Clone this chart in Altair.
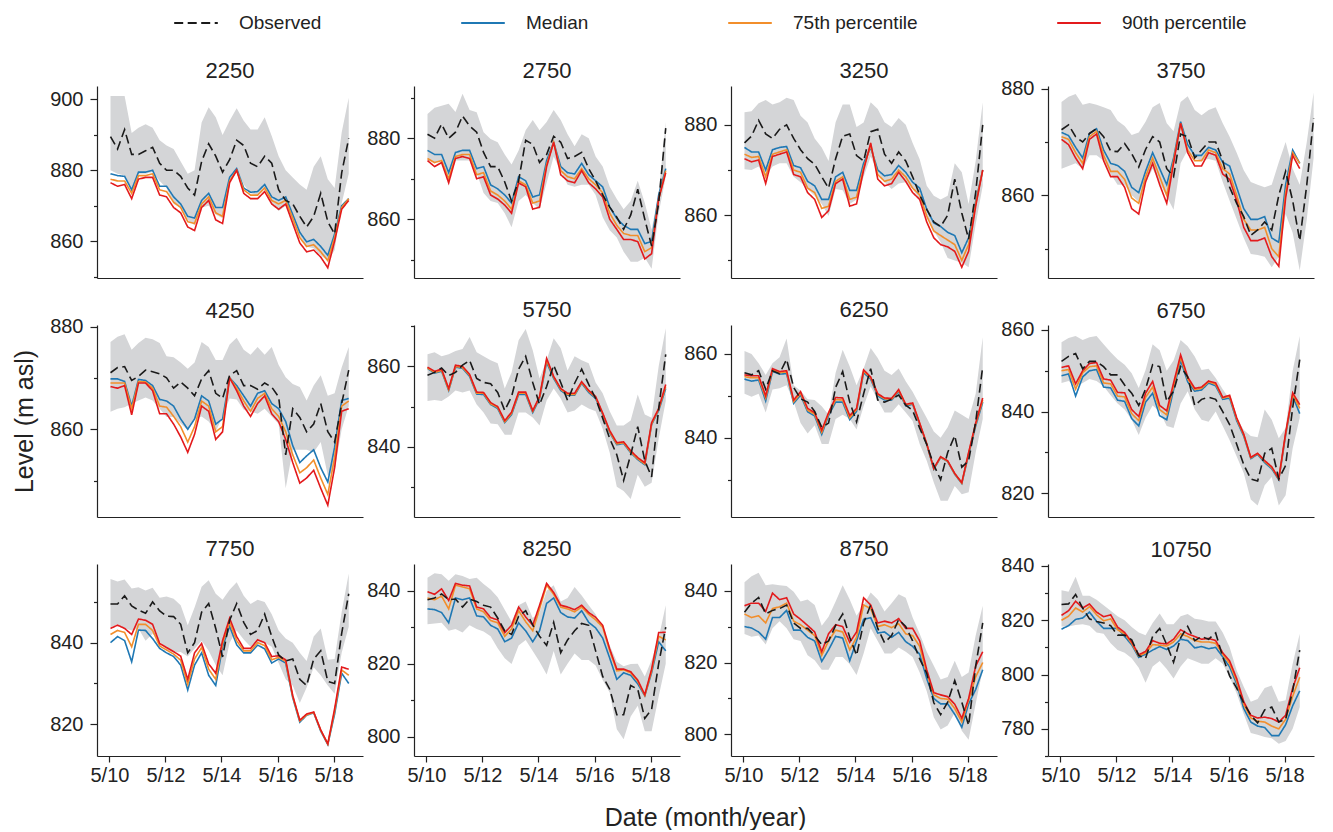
import math
import altair as alt
import pandas as pd

# ---------------- data ----------------
# quarterly dates: 2010-05-15, 2010-08-15, ... (37 dates, up to 2019-05)
DATES = [f"{2010 + (4 + 3 * k) // 12}-{(4 + 3 * k) % 12 + 1:02d}-15" for k in range(37)]

SERIES = ["Observed", "Median", "75th percentile", "90th percentile"]
COLORS = ["#1a1a1a", "#1f78b4", "#f28e2b", "#e31a1c"]
DASHES = [[9, 4.5], [1, 0], [1, 0], [1, 0]]
BAND_COLOR = "#d4d5d7"

obs_2250 = [889.5, 886, 891.5, 884.5, 884.5, 885.5, 886.5, 882, 880, 880, 878.3, 875, 873, 882.5, 887.5, 884, 879.5, 883, 888.5, 887, 882, 881, 884, 882, 874.5, 871.5, 870.5, 867, 864, 867, 873.5, 865.5, 862, 879.3, 889]
med_2250 = [879, 878.5, 878.3, 874.5, 879.5, 879.5, 880, 875.5, 875.5, 872.5, 870.5, 867, 866.5, 871.5, 873.5, 869.5, 869.5, 878, 880.5, 875, 873.8, 874, 876, 872.5, 871.5, 872.5, 867.5, 862.5, 859.8, 860.5, 858.5, 856, 862, 870, 872]
p75_2250 = [877.5, 877, 877, 873.5, 878.5, 878.5, 879, 874.5, 874, 871, 869.5, 865.5, 865, 870.5, 872.5, 868, 867, 877, 880, 874.5, 873, 873, 875, 871.5, 870.5, 871.5, 866.5, 861, 858.5, 859, 857, 854.5, 861, 869.5, 872]
p90_2250 = [876.5, 875.5, 876, 872, 877.5, 878, 878, 873, 872.5, 869.5, 868, 864, 863, 869.5, 871.5, 866, 865, 876.5, 880, 873.5, 872, 872, 874, 870.5, 869, 870.5, 865, 859.5, 857, 857.5, 855.5, 852.5, 860, 869, 871.5]
lo_2250 = [880, 879, 878.5, 874, 879, 879, 879.5, 877, 875, 870.5, 869.5, 866, 864.5, 869.5, 870, 867.5, 866.5, 877, 880.5, 876, 873.5, 873, 875, 870.7, 868.5, 870, 865, 861.5, 858.4, 858, 856, 854.5, 857.4, 870.7, 879]
hi_2250 = [901, 901, 901, 890.5, 892, 893, 892, 888.5, 887, 886, 882.5, 879, 880, 893.5, 897.8, 895, 890, 894, 897.5, 894, 891.5, 891.5, 895, 889.7, 884, 880, 878, 876, 874.5, 881, 884, 877.5, 875, 890.7, 900.5]

obs_2750 = [881, 880, 883.5, 880, 881.5, 885.5, 883, 881.5, 876.5, 873, 873, 869.2, 864.5, 869.5, 879.5, 878.5, 874, 876, 880.5, 879, 875, 875.5, 876.5, 872.5, 869.5, 866, 863, 860.5, 857.5, 861, 867.4, 860, 853.4, 864, 882.5]
med_2750 = [877, 876, 876, 871.5, 876.5, 877, 877, 872.5, 873, 868.5, 867.5, 866, 864, 870.5, 869.5, 865.5, 866, 874.5, 879, 873, 871.5, 871.2, 873.8, 871, 869.5, 868, 863, 860.2, 858.5, 857.5, 857.5, 854, 854.5, 866, 872.5]
p75_2750 = [875, 874, 874.5, 870, 875.5, 876, 876, 871, 871.5, 867, 866, 864.5, 862.5, 869.5, 868.5, 864, 864.5, 873.5, 879, 872, 870.5, 870, 872.5, 870, 868.5, 866.5, 861.5, 858.5, 856.5, 856, 856, 852, 853, 865, 872]
p90_2750 = [874.5, 873, 874, 869, 875, 875.5, 875, 870, 870.5, 866, 865, 863.5, 861.5, 869, 868, 862.5, 863, 873, 879, 871, 869.5, 869, 872, 869, 867.5, 865.5, 860, 857.5, 855, 855, 854.5, 850.2, 851.5, 865, 871.5]
lo_2750 = [874.5, 874, 874.5, 870, 874.5, 874.5, 874.5, 871.5, 866.5, 864.5, 864, 861.5, 858, 864.5, 866, 864, 862.5, 869, 875.5, 872, 868.5, 868, 868.5, 868.5, 866, 860.5, 857.3, 855.5, 852, 849.5, 849.5, 850.5, 847.8, 861.5, 870.5]
hi_2750 = [886, 887.5, 888, 888.5, 886.5, 891, 887, 886.4, 881.5, 879.8, 879, 876, 873.5, 877, 882, 884.5, 882, 884, 887, 884.5, 881, 878, 881, 880, 875.5, 873, 868, 865, 862.5, 864.5, 869.5, 864, 857.5, 866.5, 884]

obs_3250 = [876, 877.5, 881, 878, 877, 879, 880, 877, 874.5, 872.5, 871.3, 868.5, 866, 872.5, 877.5, 878, 873.2, 872, 878.5, 879, 873.5, 871.5, 874, 872, 868.5, 864.5, 861.3, 858.5, 857.5, 860, 868, 860.5, 854.7, 865, 880]
med_3250 = [875, 874, 874, 870, 874.5, 875, 875.2, 871, 870.5, 867.5, 866.5, 863.5, 863.5, 868.5, 869.5, 865.5, 865.5, 871.5, 875, 870, 868.7, 869, 871, 869.5, 867.3, 866, 861.3, 858.3, 857.5, 856.2, 855.5, 851.7, 855, 863, 870]
p75_3250 = [873.5, 872.8, 873, 868.5, 873.5, 874, 874.5, 870, 869.5, 866, 865, 861.5, 862, 867.5, 868.5, 863.5, 864, 870.5, 875.5, 869, 867.5, 868, 870, 868.5, 866, 864.5, 859.8, 856.5, 855.5, 854.5, 853.5, 850, 853.5, 862.5, 870]
p90_3250 = [872.5, 871.8, 872.2, 867, 873, 873.5, 874, 869, 868.5, 865, 863.5, 859.5, 861, 867, 868, 862, 862.5, 870, 876, 868, 866.5, 867, 869.5, 867.5, 865, 863.5, 858.5, 855, 853.5, 853, 852, 848.5, 852, 862, 870]
lo_3250 = [870.2, 870, 870.8, 868.5, 870.8, 871.5, 871.5, 868.5, 867.3, 865.8, 864.3, 862.5, 859.8, 865.8, 865.5, 862.5, 863.5, 868.5, 873, 869.5, 867.3, 865.8, 867, 867.3, 865.8, 863.5, 860, 856.5, 854, 850.5, 850, 849.5, 848.5, 858, 866.5]
hi_3250 = [882.8, 883, 884.8, 885.5, 884.5, 885, 886, 885.5, 882, 880.5, 877, 875, 872, 880.6, 884.5, 884.5, 879.5, 880.5, 885, 883.5, 880.6, 879.5, 881.5, 880, 876, 872.4, 866.5, 864.3, 863.5, 864.3, 871.5, 869.5, 862.5, 872, 885]

obs_3750 = [872.3, 873.2, 871, 870, 871.6, 872.5, 871, 868.3, 868.2, 869.7, 867.8, 865.3, 868.6, 871, 870, 865, 863.5, 871.5, 871, 867, 868.5, 870, 870, 866.5, 861.5, 858.5, 856, 852.5, 853.5, 855, 853.5, 860, 864.5, 859, 851.5, 862, 874.5]
med_3750 = [871.8, 871.2, 869, 867, 871.6, 872.5, 868.5, 866, 865.6, 864.5, 861.5, 860.5, 864.5, 868, 865, 862, 867, 873.8, 869.5, 867.5, 867.5, 869, 868.5, 866.2, 865.5, 861.5, 857.5, 855.5, 855.5, 856, 852, 851.2, 862, 868.5, 866]
p75_3750 = [871, 870.5, 868, 866, 871, 872, 867.5, 864.5, 864.5, 863, 859.5, 858.5, 863.5, 867, 863.5, 860, 866.5, 873.5, 868.5, 866.5, 866.5, 868.5, 868, 865, 864, 860, 855.5, 853.5, 853.5, 854, 850, 848.5, 860.5, 868, 866]
p90_3750 = [870.5, 869.5, 867, 865, 870.5, 871.5, 866.5, 863.5, 863.5, 861.5, 857.5, 856.5, 862.5, 866, 862, 858.5, 866, 873.5, 868, 865.5, 865.5, 868, 867.5, 864, 863, 859, 854, 851.5, 851.5, 852, 848.5, 846.7, 859.5, 867.5, 865]
lo_3750 = [865, 865.5, 866, 865, 867.5, 867.5, 866.5, 864, 862, 862, 860, 858.8, 862.3, 865, 862.3, 859.8, 857.3, 866, 868.5, 867, 866.5, 866.8, 866.5, 862.5, 859, 855.5, 852, 849, 848.8, 848.5, 846.5, 848.5, 856.5, 853, 845.9, 855.5, 867]
hi_3750 = [877.5, 878.5, 879, 877, 877.3, 877, 876.5, 876, 874, 873, 871.3, 871.8, 873.8, 876.5, 877.3, 873.5, 872, 877.5, 878.6, 876, 875, 876, 876.5, 873.5, 871, 868, 864.7, 862.5, 862, 861.5, 862, 866.2, 870, 865, 862, 870, 879.3]

obs_4250 = [871, 872, 872.2, 869.5, 870.3, 871.5, 871.2, 870.8, 870, 868, 869.2, 868, 866.5, 869.8, 871.4, 867, 866, 870.5, 871.4, 868.5, 868.5, 867.8, 869, 868.2, 866.3, 855, 864, 862.3, 859.5, 861, 865, 859.5, 857.5, 865, 871.5]
med_4250 = [869.8, 869.8, 869.3, 864.5, 869.7, 869.5, 868.5, 865.8, 865.5, 864.5, 862, 860, 862, 866.5, 865.5, 861, 862, 870, 868.5, 866.5, 864.5, 867, 867.5, 865, 864, 861.5, 856.8, 853.5, 854.8, 856, 852.5, 849.7, 856.5, 865.6, 866]
p75_4250 = [869, 869, 869, 864, 869.3, 869.2, 868, 864.5, 864.3, 862.5, 860.5, 857.5, 860.5, 865.5, 864.5, 859.5, 860.5, 870, 868, 865.5, 863.5, 866, 867, 864, 862.5, 859.5, 855, 851.5, 852.5, 854, 850.5, 847.3, 854.5, 864.5, 865.5]
p90_4250 = [868.3, 868, 868.5, 862.8, 869, 869, 867.5, 863, 863, 861, 858.5, 855.5, 859, 864.5, 863.5, 858, 859.5, 870, 867.5, 864.5, 862.5, 865, 866.5, 863, 861.5, 858, 853.5, 849.5, 850.5, 852, 848.5, 845.2, 852.5, 863.5, 864]
lo_4250 = [863.4, 864, 864.3, 865, 865.6, 866.2, 865.6, 864, 862.4, 862.4, 861.1, 859.8, 862, 862.5, 861.5, 859.5, 862.5, 866, 865.8, 863.8, 863.5, 863, 864, 862.5, 861, 848.5, 856, 856, 856, 855.5, 857.5, 851, 852, 860, 864.5]
hi_4250 = [877, 878, 878.5, 875.5, 876.8, 877.8, 877.5, 876.8, 874.2, 874, 873, 871.8, 873, 877, 876, 873.5, 873.5, 876.5, 877.8, 875.5, 874.5, 876, 874.5, 876, 872.5, 870.1, 868.8, 868.2, 865.6, 868.5, 870.5, 866.5, 867, 872, 876]

obs_5750 = [857.8, 858.5, 859.6, 857.7, 858.5, 860.3, 861.5, 857, 856, 855.7, 853.5, 849, 852.5, 859.3, 862.5, 856, 850.5, 855, 860.3, 856, 851.5, 855.8, 859.3, 855.5, 852, 847.1, 842, 838, 831.6, 838, 845, 836.5, 832.5, 849.5, 863]
med_5750 = [859.5, 858.3, 858.8, 854, 859.8, 859.5, 857.5, 853.1, 853, 850.5, 849.5, 846, 848, 853, 853, 848.5, 852, 861, 857, 854, 852.8, 852.8, 855.8, 853.5, 852, 848, 843.5, 840.5, 840.8, 838.5, 836.8, 835.5, 845.5, 849, 854.5]
p75_5750 = [859.6, 858.5, 859, 854.2, 860, 859.7, 857.8, 853.3, 853.3, 850.7, 849.8, 846.2, 848.3, 853.3, 853.3, 848.8, 852.3, 861.5, 857.3, 854.3, 853, 853, 856, 853.8, 852.3, 848.2, 843.7, 840.7, 841, 838.7, 837, 835.7, 845.7, 849.3, 855]
p90_5750 = [859.8, 858.8, 859.3, 854.5, 860.3, 860, 858, 853.6, 853.5, 851, 850, 846.5, 848.6, 853.6, 853.6, 849, 852.5, 862, 857.5, 854.5, 853.3, 853.3, 856.2, 854, 852.5, 848.4, 844, 841, 841.2, 839, 837.3, 836, 846, 849.5, 855.5]
lo_5750 = [851.4, 851.6, 851.4, 852.5, 854, 853.5, 854, 850.5, 848.5, 845.8, 845.6, 843, 843, 848.5, 848.5, 847.3, 845.3, 851.5, 854.5, 852, 848.5, 849, 850.5, 849.5, 848.8, 844.5, 838.5, 830, 829, 827, 833, 830, 831, 842, 851.4]
hi_5750 = [863, 863.5, 862.5, 863, 863.8, 864.3, 867.3, 863.5, 862.5, 861.5, 860.8, 854.5, 858.5, 866.5, 869.3, 864, 857, 861.5, 867, 864.5, 859, 862.5, 861.5, 860.8, 856, 853.3, 848.8, 845.3, 845.3, 846.5, 853, 848, 847.2, 860, 869.5]

obs_6250 = [855.5, 855, 856, 851.6, 856, 855.3, 858.7, 852, 849.3, 848.5, 846.3, 842.5, 843.5, 852, 855.8, 848.5, 843.8, 850.5, 856.5, 849, 848.5, 849.2, 850.2, 847.8, 846.5, 842.3, 838.4, 833.5, 830, 836.5, 840.5, 833, 834.5, 843.8, 857]
med_6250 = [854, 853.5, 853.8, 848.8, 855.8, 855.2, 855.3, 848.2, 850.2, 846.2, 845.2, 840.8, 845.3, 848.5, 848.5, 844.3, 846.3, 855.5, 854, 850, 849, 849, 851, 847.6, 848, 843.2, 838.4, 832.5, 835.3, 834.3, 831.3, 829.1, 836, 842.8, 848.5]
p75_6250 = [854.6, 854.3, 854.3, 849.5, 856.2, 855.5, 855.7, 848.6, 850.6, 846.6, 845.6, 841.3, 845.7, 849.1, 849, 844.8, 846.7, 855.9, 854.3, 850.3, 849.3, 849.2, 851.3, 847.8, 848.2, 843.4, 838.5, 832.6, 835.4, 834.4, 831.4, 829.2, 836.3, 843.2, 849]
p90_6250 = [855, 854.8, 854.8, 850, 856.5, 855.8, 856, 849, 851, 847, 846, 841.8, 846, 849.6, 849.5, 845.3, 847, 856.2, 854.5, 850.5, 849.5, 849.4, 851.5, 848, 848.3, 843.5, 838.6, 832.7, 835.5, 834.5, 831.5, 829.3, 836.5, 843.5, 849.5]
lo_6250 = [850.5, 849.8, 850.5, 846, 851.5, 851.8, 852.5, 848.6, 843.5, 841, 843, 838.5, 838.5, 844.5, 845.5, 844.5, 842, 847.5, 852.2, 849, 846, 846, 848, 846, 844, 838.5, 834.5, 829.3, 825, 825, 828.5, 826.5, 827, 836.5, 844.5]
hi_6250 = [860.7, 860, 857.8, 855, 857.8, 859.2, 863.7, 852.5, 851.2, 849.2, 849, 847.5, 845.5, 855.5, 861, 857, 852.5, 856.5, 861.4, 859, 856, 855, 856.5, 853.5, 851, 847.8, 844.7, 841.5, 840, 842.5, 846.5, 845.5, 844.5, 850.5, 864]

obs_6750 = [852.3, 853.5, 854.2, 850.5, 852.3, 852.3, 851, 849, 849, 846.5, 844.5, 841.5, 845.5, 851.5, 851, 842.5, 845, 851, 848.5, 841.5, 843, 843.5, 843, 840, 836.8, 832, 827, 823.5, 823, 829.8, 831, 823.5, 826.8, 841, 852.7]
med_6750 = [848.8, 849.2, 843.8, 848.5, 850, 850.3, 846, 845.8, 842.8, 842.5, 838.3, 836.5, 842.3, 844.5, 839, 838, 845.3, 852.5, 847.3, 845, 845.3, 847, 846.3, 843, 843.3, 837.8, 834, 828.5, 829.5, 827.5, 826, 823.3, 834.2, 843.8, 839.5]
p75_6750 = [850, 850.3, 845.5, 849.5, 851, 851.2, 847, 846.8, 843.8, 843.6, 839.5, 837.8, 843.5, 846, 840.5, 839.2, 846.2, 853.3, 848, 845.4, 845.7, 847.3, 846.7, 843.3, 843.7, 838.2, 834.3, 828.7, 829.7, 827.8, 826.3, 823.5, 834.5, 844.2, 840.8]
p90_6750 = [850.8, 851.2, 846.8, 850, 851.8, 852, 848, 847.7, 844.7, 844.6, 840.5, 838.8, 844.5, 847.4, 841.5, 840.2, 847, 853.9, 848.5, 845.7, 846, 847.5, 847, 843.5, 844, 838.5, 834.5, 828.8, 829.8, 828, 826.5, 823.6, 834.8, 844.6, 841.7]
lo_6750 = [847, 847.5, 846, 847, 848, 847.5, 846.2, 844, 842, 840.5, 838, 834.3, 838.5, 841.5, 840, 836.5, 836, 842, 845, 840.5, 838, 837.5, 840, 836.5, 833, 829, 825, 818.5, 817, 822, 824, 817, 819.5, 831, 838.5]
hi_6750 = [857, 858, 858.5, 857.5, 858.2, 858.5, 856.5, 854.5, 852.8, 851.5, 849.4, 845.8, 850.2, 856.5, 855, 850, 852.5, 857.5, 856, 853.5, 850.2, 850.5, 848.2, 845.5, 843, 838.5, 835.5, 834, 833.7, 840.5, 838, 833.5, 836, 850, 858.5]

obs_7750 = [849.5, 849.5, 851.5, 849, 848, 847.2, 850, 847.8, 846.5, 846.4, 844.5, 837.5, 840, 847.5, 849.6, 843.5, 836.5, 845.5, 849.6, 845, 842, 843, 847, 841.5, 837, 835.5, 836, 831, 829.5, 836, 838, 830.5, 830, 842.3, 852]
med_7750 = [840, 841.5, 840.5, 835.3, 843.1, 843, 841, 838.6, 837.5, 836.6, 834.5, 828.4, 834.5, 837.5, 832, 829.5, 839, 844, 839.5, 837.5, 837.5, 839.4, 838.5, 835, 836, 835, 826.5, 820.5, 822.2, 822.8, 818.3, 815, 822.5, 832.5, 830]
p75_7750 = [842, 843, 842.5, 839, 844.5, 844.5, 843, 839.2, 838.2, 837.2, 835.7, 829.8, 836, 838.8, 833.5, 831, 839.8, 845, 840.5, 838, 838, 840, 839.3, 835.8, 836.4, 835.4, 826.8, 820.8, 822.3, 822.9, 818.5, 815.1, 823.2, 833.3, 832]
p90_7750 = [843.5, 844.3, 843.5, 842, 845.8, 845.5, 844.5, 839.8, 838.8, 837.8, 836.7, 831, 837.5, 839.8, 834.8, 832.5, 840.5, 846, 841.5, 838.6, 838.6, 840.7, 840, 836.6, 836.8, 835.8, 827, 821, 822.5, 823, 818.6, 815.2, 823.8, 834, 833.5]
lo_7750 = [843.8, 844.5, 843.5, 843, 843.5, 840.5, 842.2, 840.3, 838.2, 837.5, 837.7, 836.6, 838.5, 840.5, 838, 834.5, 832, 840, 843, 840.8, 839, 840, 840, 839, 835, 831, 829.5, 825.2, 829, 834, 832, 829.5, 827.5, 837.5, 843.9]
hi_7750 = [855.6, 855, 855.5, 853.3, 853.6, 852.8, 853.5, 851, 851.3, 850.8, 849.2, 844.3, 848.6, 853.7, 855.3, 852, 850.5, 853, 854.8, 851.5, 849.5, 850.5, 850, 847, 843, 841, 840, 837.5, 835.5, 841.5, 843.5, 835.8, 836, 847.5, 857]

obs_8250 = [837.5, 838, 839.1, 837.5, 837.7, 835.5, 837.7, 837, 836, 835.5, 832.5, 829, 828, 833, 834.5, 830.6, 827.5, 825, 831.3, 823, 826.5, 829, 831, 830.5, 823.5, 816.5, 813, 806, 806, 814, 813, 805, 807.5, 820, 830]
med_8250 = [835, 834.8, 834, 831.2, 838, 837.5, 838, 833.1, 832.8, 830.5, 829.5, 826, 827, 831.2, 829, 826, 829, 836.5, 838, 834, 832.8, 832.5, 834.5, 831.3, 829.8, 827, 821.5, 815.7, 817.5, 816.8, 814.5, 811.2, 817.5, 826, 823.5]
p75_8250 = [838, 837.5, 838.5, 835, 841.5, 841, 840.5, 835, 834.2, 831.8, 831.2, 827.5, 829.5, 834.5, 831.5, 829, 835, 841.5, 839, 835.5, 835, 834.2, 835.5, 833.5, 832, 830, 823.5, 818, 818.3, 817.5, 815.2, 811.3, 818, 827.5, 826.5]
p90_8250 = [839.7, 839, 840.5, 837.3, 842, 841.5, 841.3, 835.5, 835, 832.6, 832, 828.5, 830.5, 835.5, 832.8, 830.5, 836, 842, 839.5, 836, 835.5, 834.8, 836, 834, 832.7, 830.5, 824, 818.5, 818.5, 817.8, 815.5, 811.5, 818.5, 828.5, 828.6]
lo_8250 = [830.8, 831, 831.2, 829, 829.5, 828.5, 830.5, 829.5, 828.8, 827.5, 824.2, 821.5, 819.9, 825, 826.5, 823.5, 820.5, 817, 823.5, 817, 820, 822.8, 821, 821, 819.5, 815.5, 812, 802, 799.3, 805.5, 808.5, 801.5, 801.5, 811, 820]
hi_8250 = [843.5, 844.8, 844.5, 842.7, 844.5, 844, 843.2, 843.5, 841.8, 840.3, 838.2, 834.8, 831.5, 836, 837, 832.5, 834, 840, 841.5, 837, 838, 841, 838.7, 836, 833.5, 829.5, 825, 820.5, 819.3, 819.9, 820, 816.5, 821, 827, 836]

obs_8750 = [834, 836.5, 838.1, 833.5, 834.5, 835, 836, 831, 829.5, 829.5, 827.5, 825, 826, 830.3, 833.5, 827, 822, 831, 836, 829.5, 825.5, 827.5, 832, 830, 826, 821, 817, 808.8, 805.5, 809, 815, 809, 802.5, 819, 831]
med_8750 = [830, 829.6, 828.5, 826.5, 832.5, 832.5, 834.5, 829, 829, 827, 826, 820.3, 823.5, 827.3, 826.8, 820.5, 826, 832, 832.5, 828.2, 828.5, 827, 828.4, 825.8, 824.5, 822.3, 815.5, 810, 808.5, 808.5, 805.6, 802, 808.5, 812.5, 818]
p75_8750 = [833.5, 832.5, 833, 831, 835, 835.5, 836.5, 831.5, 830.5, 829, 827.5, 822, 826, 829, 828.5, 823.5, 827, 836, 835, 830, 830.5, 829.7, 830.8, 828, 827.5, 824.5, 817, 811, 810, 809.8, 807.2, 803.5, 809.5, 816, 820]
p90_8750 = [835.8, 836.5, 836.5, 834.2, 839.3, 837.5, 838, 833.5, 832, 830.3, 828.5, 823, 828, 830.5, 830, 825.6, 828.5, 838, 836, 831, 831.5, 831, 832.2, 829.5, 829.5, 826, 818, 811.6, 811, 810.5, 808.4, 804.5, 810, 819, 823]
lo_8750 = [827.9, 827.2, 827.5, 825, 829.5, 831.5, 829.5, 826.5, 826, 822, 820.6, 818, 818, 821.5, 821.5, 819.5, 816.5, 822.5, 829.5, 826, 822.5, 822.5, 824.2, 823, 821.5, 817.2, 812, 804.8, 801.4, 802.5, 806, 801, 798.5, 808.5, 818]
hi_8750 = [842.3, 844, 845, 841.5, 841.8, 841.5, 841.3, 839.7, 837, 837.5, 836, 830.2, 832.7, 837, 841.5, 837.5, 833, 836, 839.5, 837.5, 834.2, 836.5, 839, 838, 832.5, 828, 823, 819.1, 815.3, 816, 820.5, 816, 817.2, 827.5, 835.8]

obs_10750 = [825.8, 826, 829.5, 824.5, 820.5, 819.5, 819, 818, 814.5, 814.5, 812.8, 807, 806, 814, 817, 811, 804.5, 813.5, 817.7, 812.5, 814, 813, 815.3, 806.5, 799.5, 795, 789.5, 785, 782.2, 787, 788, 782.5, 783.5, 794, 809]
med_10750 = [816.7, 818, 820.3, 820.8, 823, 819.6, 817, 817, 817, 814, 811, 806.3, 807.5, 809, 810.3, 809.2, 810.5, 813, 812.5, 809.8, 810.3, 809.5, 810, 806.5, 802.8, 796.5, 787.5, 782.5, 781, 780.5, 777.5, 777.5, 781.5, 788.5, 794]
p75_10750 = [820, 821.5, 824.5, 823, 825, 822, 819.8, 820.5, 816.5, 815, 811.5, 806.8, 808, 811, 810.8, 810.5, 812, 815, 814, 812.5, 812, 812, 811.5, 807.5, 804, 797.5, 789, 784, 782.8, 782.5, 781, 780, 783.5, 792, 799]
p90_10750 = [821.8, 823.5, 827, 824.5, 826, 823, 821.3, 822, 817.5, 815.5, 812, 807.3, 808.5, 812.5, 811.5, 811.3, 813, 816.5, 815, 814, 813, 813.3, 812.5, 808, 805, 798.5, 790, 785, 784, 784.3, 783.8, 782.5, 785, 795, 802.5]
lo_10750 = [817.7, 817.7, 818.2, 818.5, 818, 815.5, 815, 811.5, 809, 808, 806, 802.5, 797, 803, 805, 802, 798.5, 803, 806, 805, 804, 804, 806, 804, 799, 793, 785.5, 778.5, 777.8, 777, 776.5, 774.5, 775.5, 780, 788]
hi_10750 = [831, 830.5, 836, 829, 829, 827.5, 825.5, 823.5, 821.5, 820, 817.5, 815.5, 814.5, 819, 822.5, 818.5, 818.5, 821.5, 822.3, 820.5, 820.2, 819.5, 819.5, 815.5, 810, 801.5, 795.5, 790, 791, 795, 796, 790, 790.5, 804, 815]

PANEL_DATA = {
    "2250": (obs_2250, med_2250, p75_2250, p90_2250, lo_2250, hi_2250),
    "2750": (obs_2750, med_2750, p75_2750, p90_2750, lo_2750, hi_2750),
    "3250": (obs_3250, med_3250, p75_3250, p90_3250, lo_3250, hi_3250),
    "3750": (obs_3750, med_3750, p75_3750, p90_3750, lo_3750, hi_3750),
    "4250": (obs_4250, med_4250, p75_4250, p90_4250, lo_4250, hi_4250),
    "5750": (obs_5750, med_5750, p75_5750, p90_5750, lo_5750, hi_5750),
    "6250": (obs_6250, med_6250, p75_6250, p90_6250, lo_6250, hi_6250),
    "6750": (obs_6750, med_6750, p75_6750, p90_6750, lo_6750, hi_6750),
    "7750": (obs_7750, med_7750, p75_7750, p90_7750, lo_7750, hi_7750),
    "8250": (obs_8250, med_8250, p75_8250, p90_8250, lo_8250, hi_8250),
    "8750": (obs_8750, med_8750, p75_8750, p90_8750, lo_8750, hi_8750),
    "10750": (obs_10750, med_10750, p75_10750, p90_10750, lo_10750, hi_10750),
}

# y-axis ranges of each panel (as in the reference)
Y_DOMAIN = {
    "2250": (849.6, 903.8), "2750": (845.5, 892.9), "3250": (846.1, 888.6), "3750": (844.5, 880.5),
    "4250": (842.9, 880.3), "5750": (822.5, 870.3), "6250": (821.1, 866.9), "6750": (814.2, 861.2),
    "7750": (812.2, 859.3), "8250": (794.7, 847.3), "8750": (794.0, 847.4), "10750": (770.0, 840.7),
}

PANELS = ["2250", "2750", "3250", "3750",
          "4250", "5750", "6250", "6750",
          "7750", "8250", "8750", "10750"]
PANEL_W = 266
PANEL_H = 192

FONT = "Liberation Sans"
TXT = "#222222"

XSCALE = alt.Scale(type="utc", domain=[alt.DateTime(year=2009, month=11, date=20, utc=True),
                                       alt.DateTime(year=2019, month=5, date=20, utc=True)])
XTICKS = [alt.DateTime(year=y, month=5, date=1, utc=True) for y in (2010, 2012, 2014, 2016, 2018)]

LEGEND = alt.Legend(orient="none", legendX=76, legendY=-86, direction="horizontal", columns=4,
                    title=None, labelFontSize=19, labelFont=FONT, labelColor=TXT,
                    symbolType="stroke", symbolSize=1900, symbolStrokeWidth=2,
                    labelOffset=20, columnPadding=135)
COLOR = alt.Color("series:N", scale=alt.Scale(domain=SERIES, range=COLORS), legend=LEGEND)
DASH = alt.StrokeDash("series:N", scale=alt.Scale(domain=SERIES, range=DASHES), legend=LEGEND)

LABEL_HALF = 10.5  # half height of a y tick label, px


def title_offset(y0, y1):
    # keep every panel title at the same distance above its plot area,
    # even when the top tick label sticks out above the plot
    top_label = math.floor(y1 / 20.0) * 20
    px_from_top = (y1 - top_label) / (y1 - y0) * PANEL_H
    return 3 - max(0.0, LABEL_HALF - px_from_top)


def make_panel(idx):
    name = PANELS[idx]
    col = idx % 4
    bottom = idx >= 8
    obs, med, p75, p90, lo, hi = PANEL_DATA[name]
    band_df = pd.DataFrame({"date": DATES[:len(lo)], "lo": lo, "hi": hi})
    y0, y1 = Y_DOMAIN[name]
    ticks = list(range(int(math.ceil(y0 / 10.0)) * 10, int(math.floor(y1)) + 1, 10))
    yscale = alt.Scale(domain=[y0, y1], nice=False, zero=False)
    ykw = dict(values=ticks, labelExpr="datum.value % 20 === 0 ? datum.label : ''",
               tickSize={"condition": {"test": "datum.value % 20 === 0", "value": 7}, "value": 3.5},
               labelPadding=7, grid=False)
    if name == "4250":
        yaxis = alt.Axis(title="Level (m asl)", titlePadding=12, titleFontSize=25, **ykw)
    else:
        yaxis = alt.Axis(title=None, **ykw)
    if bottom:
        xkw = dict(values=XTICKS, format="%-m/%y", tickSize=6, labelPadding=3, grid=False)
        if col == 1:
            xaxis = alt.Axis(title="Date (month/year)", titleX=291, titlePadding=20, titleFontSize=25, **xkw)
        else:
            xaxis = alt.Axis(title=None, **xkw)
    else:
        xaxis = alt.Axis(ticks=False, labels=False, title=None, grid=False)

    x = alt.X("date:T", scale=XSCALE, axis=xaxis)
    band = alt.Chart(band_df).mark_area(color=BAND_COLOR, opacity=1).encode(
        x=x, y=alt.Y("lo:Q", scale=yscale, axis=yaxis), y2="hi:Q")
    layers = [band]
    for s, vals in (("Median", med), ("75th percentile", p75), ("90th percentile", p90), ("Observed", obs)):
        df = pd.DataFrame({"date": DATES[:len(vals)], "series": s, "value": vals})
        layers.append(alt.Chart(df).mark_line(strokeWidth=1.6).encode(
            x=x, y=alt.Y("value:Q", scale=yscale, axis=yaxis), color=COLOR, strokeDash=DASH))
    return alt.layer(*layers).properties(
        width=PANEL_W, height=PANEL_H,
        title=alt.TitleParams(name, fontSize=22, fontWeight="normal", font=FONT, color=TXT,
                              anchor="middle", offset=round(title_offset(y0, y1), 1)))


chart = alt.concat(*[make_panel(i) for i in range(12)], columns=4, bounds="flush",
                   spacing={"row": 47, "column": 51}).resolve_scale(
    color="shared", strokeDash="shared", y="independent", x="independent")

chart = chart.properties(padding={"left": 12, "top": 0, "right": 5, "bottom": 0}).configure(
    font=FONT
).configure_axis(
    domainColor=TXT, tickColor=TXT, labelColor=TXT, titleColor=TXT,
    labelFont=FONT, titleFont=FONT, labelFontSize=20, titleFontWeight="normal",
    domainWidth=1.2, tickWidth=1.2
).configure_view(strokeWidth=0)

chart.save("out.html", embed_options={"renderer": "svg", "actions": False})
